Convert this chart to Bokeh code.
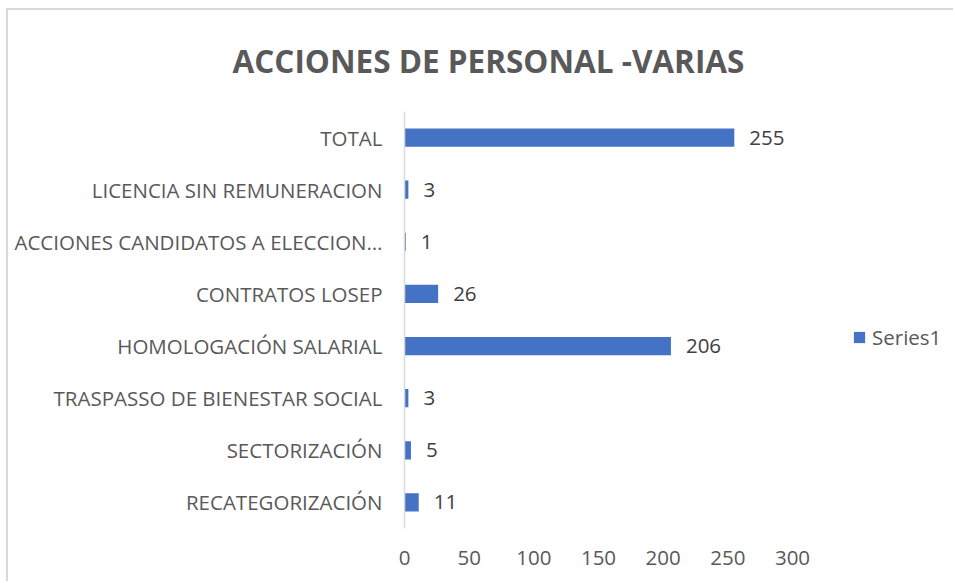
from bokeh.plotting import figure
from bokeh.models import ColumnDataSource, FactorRange, Range1d, FixedTicker, Title, Legend, LegendItem
from bokeh.core.properties import value
from bokeh.embed import file_html
from bokeh.resources import INLINE

# Data (bottom to top)
categories = [
    "RECATEGORIZACIÓN",
    "SECTORIZACIÓN",
    "TRASPASSO DE BIENESTAR SOCIAL",
    "HOMOLOGACIÓN SALARIAL",
    "CONTRATOS LOSEP",
    "ACCIONES CANDIDATOS A ELECCION…",
    "LICENCIA SIN REMUNERACION",
    "TOTAL",
]
values = [11, 5, 3, 206, 26, 1, 3, 255]
x_ticks = [0, 50, 100, 150, 200, 250, 300]
series_name = "Series1"
title_text = "ACCIONES DE PERSONAL -VARIAS"

FONT = "Open Sans"
GREY = "#595959"
BAR = "#4472C4"
FS = "20.5px"

src = ColumnDataSource(dict(cat=categories, val=values, lbl=[str(v) for v in values]))

W, H = 947, 573
p = figure(
    width=W, height=H,
    y_range=FactorRange(factors=categories, range_padding=0),
    x_range=Range1d(0, 300 * 551 / 388),
    output_backend="svg", toolbar_location=None,
    min_border_left=396, min_border_right=0, min_border_top=99, min_border_bottom=55,
)
p.margin = (8, 0, 0, 6)
p.title = Title(text=title_text, align="left", offset=-172, standoff=56, vertical_align="top",
                text_font=FONT, text_font_size="31.5px", text_font_style="bold",
                text_color=GREY)
p.outline_line_color = None
p.background_fill_color = "white"
p.border_fill_color = "white"
p.xgrid.visible = False
p.ygrid.visible = False
p.styles = {"border-top": "2px solid #d9d9d9", "border-left": "2px solid #d9d9d9"}

bars = p.hbar(y="cat", right="val", left=0, height=0.35, source=src, color=BAR, line_color=None)

p.text(x="val", y="cat", text="lbl", source=src, x_offset=15,
       text_font=value(FONT), text_font_size=FS, text_color="#404040",
       text_align="left", text_baseline="middle")

# axes
p.xaxis.ticker = FixedTicker(ticks=x_ticks)
p.xaxis.axis_line_color = None
p.xaxis.major_tick_line_color = None
p.xaxis.major_tick_out = 0
p.xaxis.minor_tick_line_color = None
p.xaxis.major_label_text_font = FONT
p.xaxis.major_label_text_font_size = FS
p.xaxis.major_label_text_color = GREY
p.xaxis.major_label_standoff = 22

p.yaxis.axis_line_color = "#d9d9d9"
p.yaxis.axis_line_width = 1.5
p.yaxis.major_tick_line_color = None
p.yaxis.major_tick_out = 0
p.yaxis.minor_tick_line_color = None
p.yaxis.major_label_text_font = FONT
p.yaxis.major_label_text_font_size = FS
p.yaxis.major_label_text_color = GREY
p.yaxis.major_label_standoff = 22

legend = Legend(items=[LegendItem(label=series_name, renderers=[bars])],
                location=(448, 177), padding=0, margin=0, glyph_width=14, glyph_height=14,
                label_text_font=FONT, label_text_font_size=FS, label_text_color=GREY,
                label_standoff=6, border_line_color=None, background_fill_alpha=0)
p.add_layout(legend)

open("out.html", "w").write(file_html(p, INLINE))
